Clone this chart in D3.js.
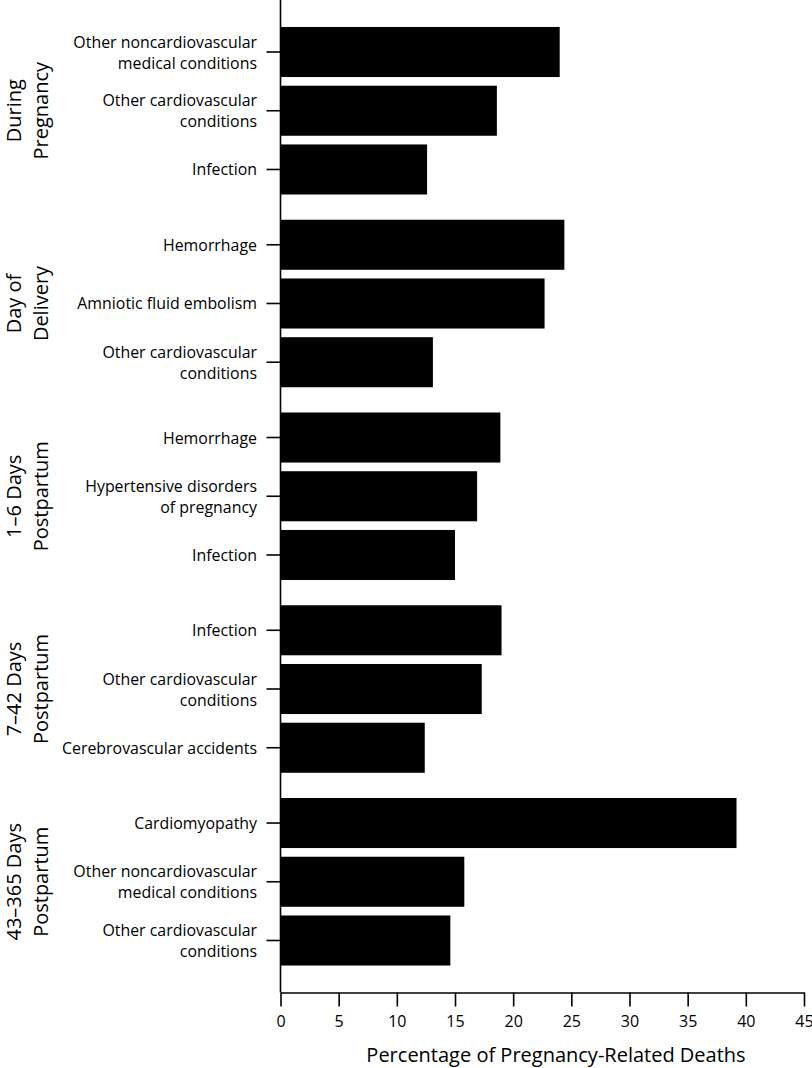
<!DOCTYPE html>
<html>
<head>
<meta charset="utf-8">
<script src="https://cdn.jsdelivr.net/npm/d3@7"></script>
<style>
  body { margin: 0; background: #fff; }
  text { font-family: "Open Sans", "Noto Sans", sans-serif; fill: #000; }
</style>
</head>
<body>
<svg id="chart" width="812" height="1068"></svg>
<script>
// timing groups (two lines each, drawn rotated)
var groupLabels = [
  ["During", "Pregnancy"],
  ["Day of", "Delivery"],
  ["1\u20136 Days", "Postpartum"],
  ["7\u201342 Days", "Postpartum"],
  ["43\u2013365 Days", "Postpartum"]
];

// causes for each group, top to bottom
var causeLabels = [
  [["Other noncardiovascular", "medical conditions"], ["Other cardiovascular", "conditions"], ["Infection"]],
  [["Hemorrhage"], ["Amniotic fluid embolism"], ["Other cardiovascular", "conditions"]],
  [["Hemorrhage"], ["Hypertensive disorders", "of pregnancy"], ["Infection"]],
  [["Infection"], ["Other cardiovascular", "conditions"], ["Cerebrovascular accidents"]],
  [["Cardiomyopathy"], ["Other noncardiovascular", "medical conditions"], ["Other cardiovascular", "conditions"]]
];

// percentage of pregnancy-related deaths
var duringPregnancy = [24.0, 18.6, 12.6];
var dayOfDelivery   = [24.4, 22.7, 13.1];
var days1to6        = [18.9, 16.9, 15.0];
var days7to42       = [19.0, 17.3, 12.4];
var days43to365     = [39.2, 15.8, 14.6];

var xTicks = [0, 5, 10, 15, 20, 25, 30, 35, 40, 45];

var values = [duringPregnancy, dayOfDelivery, days1to6, days7to42, days43to365];

var rows = [];
values.forEach(function (vals, g) {
  vals.forEach(function (v, i) {
    rows.push({ group: g, idx: i, value: v, lines: causeLabels[g][i] });
  });
});

var svg = d3.select("#chart");
// note: "top" is taken by window.top, so prefix these
var plotLeft = 280.5, plotRight = 804, plotTop = 0, plotBottom = 992.5;

var x = d3.scaleLinear().domain([0, 45]).range([plotLeft, plotRight]);

var yGroup = d3.scaleBand()
  .domain(d3.range(groupLabels.length))
  .range([plotTop, plotBottom])
  .paddingInner(0.131)
  .paddingOuter(0.14);

var yBar = d3.scaleBand()
  .domain([0, 1, 2])
  .range([0, yGroup.bandwidth()])
  .paddingInner(0.148)
  .paddingOuter(0);

function barTop(d) { return yGroup(d.group) + yBar(d.idx); }
function barMid(d) { return barTop(d) + yBar.bandwidth() / 2; }

// bars
svg.selectAll("rect.bar")
  .data(rows)
  .enter().append("rect")
  .attr("class", "bar")
  .attr("x", x(0))
  .attr("y", barTop)
  .attr("width", function (d) { return x(d.value) - x(0); })
  .attr("height", yBar.bandwidth())
  .style("fill", "#000");

// x axis
var xAxis = d3.axisBottom(x)
  .tickValues(xTicks)
  .tickSize(14)
  .tickPadding(9)
  .tickSizeOuter(0);

var gx = svg.append("g")
  .attr("transform", "translate(0," + plotBottom + ")")
  .call(xAxis);
gx.select(".domain").attr("stroke", "#000").attr("stroke-width", 1.6);
gx.selectAll(".tick line").attr("stroke", "#000").attr("stroke-width", 1.6);
gx.selectAll(".tick text")
  .style("font-family", "'Open Sans', sans-serif")
  .style("font-size", "16px")
  .attr("fill", "#000");

svg.append("text")
  .attr("x", 556)
  .attr("y", 1061.5)
  .attr("text-anchor", "middle")
  .style("font-size", "20px")
  .text("Percentage of Pregnancy-Related Deaths");

// y axis line + ticks
svg.append("line")
  .attr("x1", plotLeft).attr("x2", plotLeft)
  .attr("y1", plotTop).attr("y2", plotBottom)
  .attr("stroke", "#000")
  .attr("stroke-width", 1.6);

svg.selectAll("line.ytick")
  .data(rows)
  .enter().append("line")
  .attr("class", "ytick")
  .attr("x1", plotLeft - 14).attr("x2", plotLeft)
  .attr("y1", barMid).attr("y2", barMid)
  .attr("stroke", "#000")
  .attr("stroke-width", 1.6);

// cause labels
var lab = svg.selectAll("text.cause")
  .data(rows)
  .enter().append("text")
  .attr("class", "cause")
  .attr("text-anchor", "end")
  .style("font-size", "15.9px");

lab.each(function (d) {
  var t = d3.select(this);
  var y0 = barMid(d) + 6 - (d.lines.length - 1) * 10.5;
  d.lines.forEach(function (line, k) {
    t.append("tspan")
      .attr("x", 257)
      .attr("y", y0 + k * 21)
      .text(line);
  });
});

// group labels, rotated
var gl = svg.selectAll("text.group")
  .data(groupLabels)
  .enter().append("text")
  .attr("class", "group")
  .attr("text-anchor", "middle")
  .attr("transform", function (d, i) {
    return "translate(0," + (yGroup(i) + yGroup.bandwidth() / 2) + ") rotate(-90)";
  })
  .style("font-size", "20px");

gl.each(function (d) {
  var t = d3.select(this);
  d.forEach(function (line, k) {
    t.append("tspan")
      .attr("x", 0)
      .attr("y", 20.5 + k * 27.5)
      .text(line);
  });
});
</script>
</body>
</html>
